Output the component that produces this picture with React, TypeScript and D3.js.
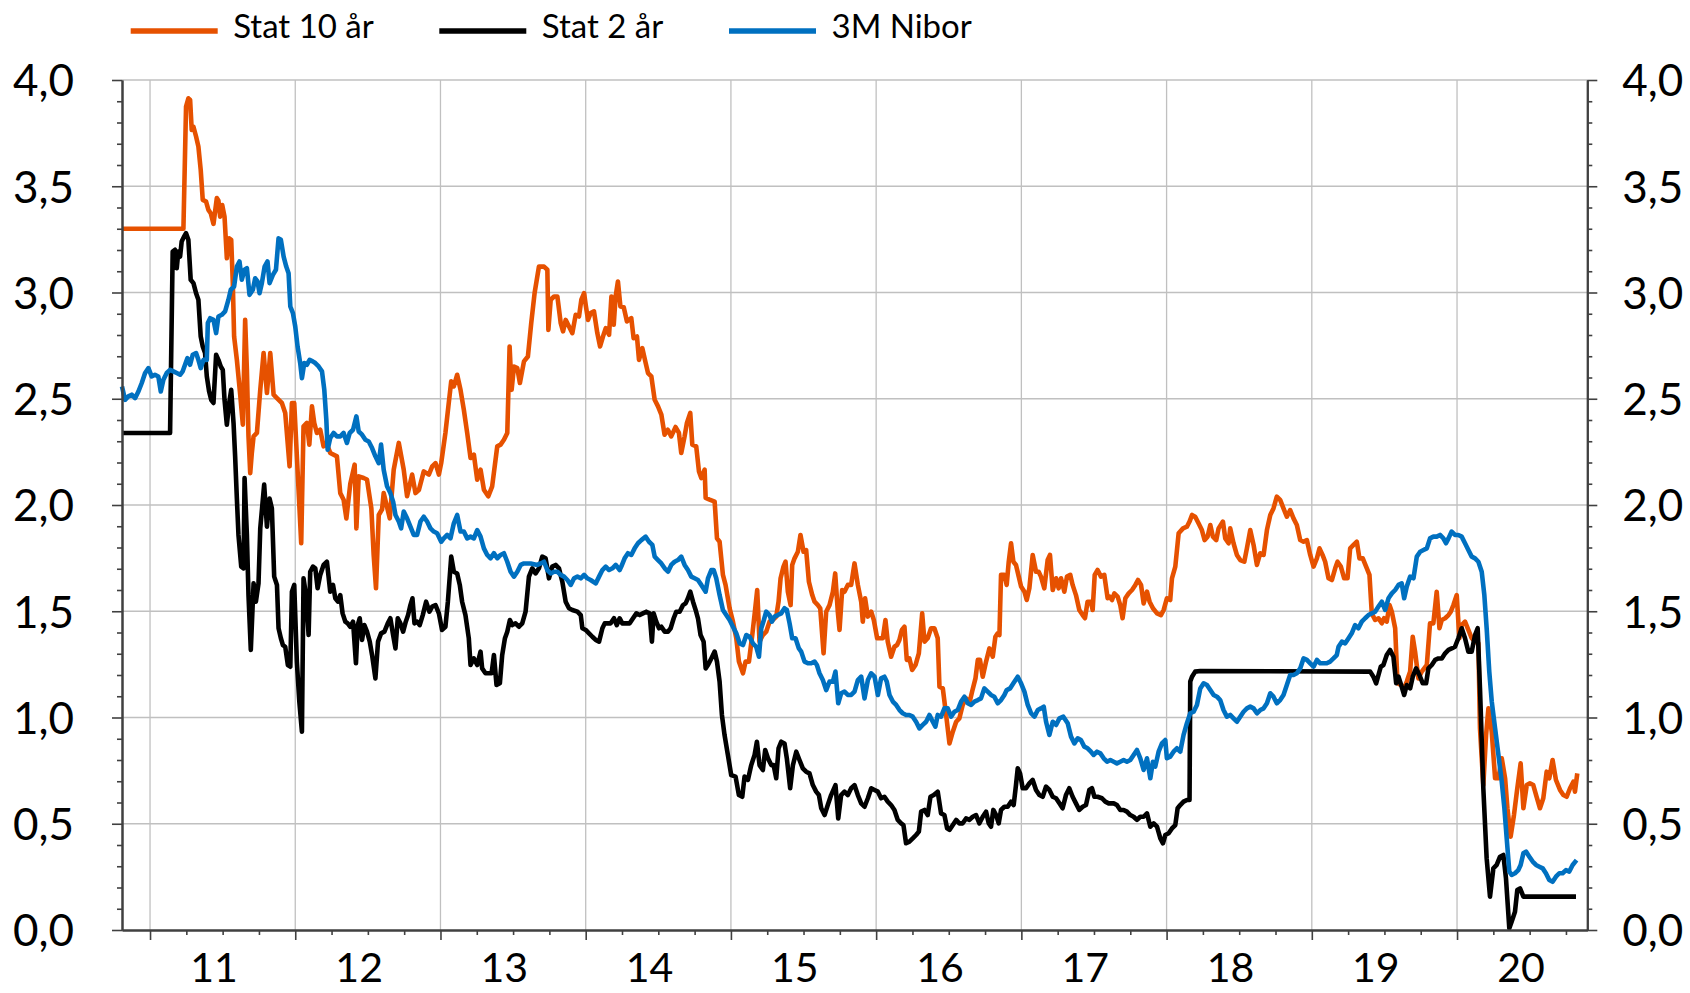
import React, { useEffect, useRef } from 'react';
import * as d3 from 'd3';

// [decimal year, percent]
const stat10: [number, number][] = [
  [2010.807,3.30],[2011.230,3.30],[2011.248,3.875],[2011.264,3.914],[2011.276,3.906],[2011.287,3.765],[2011.299,3.78],[2011.317,3.734],[2011.333,3.687],[2011.349,3.577],[2011.363,3.436],[2011.386,3.428],[2011.402,3.389],[2011.418,3.373],[2011.437,3.323],[2011.460,3.444],[2011.471,3.433],[2011.483,3.357],[2011.497,3.412],[2011.513,3.357],[2011.529,3.161],[2011.545,3.255],[2011.559,3.248],[2011.570,3.044],[2011.579,2.793],[2011.598,2.683],[2011.621,2.519],[2011.639,2.378],[2011.655,2.871],[2011.667,2.636],[2011.678,2.323],[2011.690,2.150],[2011.701,2.245],[2011.713,2.323],[2011.736,2.339],[2011.759,2.542],[2011.782,2.715],[2011.805,2.527],[2011.828,2.715],[2011.851,2.519],[2011.874,2.503],[2011.908,2.480],[2011.931,2.433],[2011.961,2.182],[2011.977,2.480],[2011.993,2.480],[2012.041,1.820],[2012.057,2.370],[2012.080,2.386],[2012.097,2.284],[2012.115,2.464],[2012.131,2.386],[2012.149,2.339],[2012.172,2.354],[2012.195,2.276],[2012.214,2.292],[2012.241,2.245],[2012.287,2.229],[2012.310,2.056],[2012.333,2.025],[2012.352,1.937],[2012.379,2.10],[2012.409,2.19],[2012.421,1.89],[2012.437,2.135],[2012.471,2.127],[2012.494,2.12],[2012.524,1.984],[2012.540,1.765],[2012.556,1.608],[2012.575,1.953],[2012.598,1.98],[2012.609,2.056],[2012.651,1.937],[2012.678,2.166],[2012.713,2.292],[2012.747,2.166],[2012.770,2.041],[2012.805,2.143],[2012.828,2.056],[2012.851,2.07],[2012.885,2.158],[2012.920,2.143],[2012.943,2.182],[2012.966,2.197],[2012.989,2.143],[2013.005,2.197],
  [2013.034,2.339],[2013.057,2.480],[2013.074,2.582],[2013.092,2.558],[2013.115,2.613],[2013.138,2.542],[2013.161,2.448],[2013.184,2.339],[2013.207,2.221],[2013.230,2.237],[2013.253,2.119],[2013.276,2.166],[2013.299,2.072],[2013.329,2.041],[2013.356,2.088],[2013.391,2.276],[2013.414,2.284],[2013.437,2.307],[2013.460,2.339],[2013.476,2.746],[2013.490,2.542],[2013.506,2.652],[2013.529,2.644],[2013.547,2.574],[2013.575,2.676],[2013.602,2.699],[2013.625,2.856],[2013.648,2.997],[2013.678,3.122],[2013.713,3.122],[2013.736,3.107],[2013.743,2.824],[2013.759,2.966],[2013.782,2.981],[2013.805,2.981],[2013.828,2.856],[2013.844,2.817],[2013.862,2.871],[2013.885,2.840],[2013.908,2.809],[2013.931,2.895],[2013.954,2.887],[2013.970,2.966],[2013.989,2.997],[2014.000,2.942],[2014.016,2.871],[2014.034,2.903],[2014.057,2.911],[2014.080,2.809],[2014.099,2.746],[2014.119,2.793],[2014.138,2.832],[2014.161,2.801],[2014.177,2.981],[2014.193,2.848],[2014.206,2.981],[2014.222,3.052],[2014.239,2.934],[2014.262,2.931],[2014.284,2.864],[2014.314,2.879],[2014.330,2.785],[2014.353,2.793],[2014.367,2.683],[2014.390,2.738],[2014.413,2.668],[2014.429,2.621],[2014.452,2.605],[2014.475,2.495],[2014.498,2.464],[2014.521,2.425],[2014.543,2.331],[2014.566,2.354],[2014.589,2.323],[2014.619,2.367],[2014.642,2.339],[2014.658,2.245],[2014.681,2.323],[2014.697,2.386],[2014.720,2.433],[2014.734,2.284],[2014.761,2.276],[2014.780,2.158],[2014.796,2.127],[2014.819,2.166],[2014.826,2.033],[2014.853,2.025],[2014.888,2.016],[2014.904,1.843],[2014.922,1.827],[2014.945,1.671],[2014.963,1.624],[2014.991,1.514],
  [2015.014,1.451],[2015.037,1.373],[2015.055,1.263],[2015.083,1.208],[2015.101,1.263],[2015.124,1.263],[2015.147,1.388],[2015.165,1.498],[2015.181,1.600],[2015.197,1.357],[2015.220,1.388],[2015.243,1.404],[2015.266,1.451],[2015.289,1.459],[2015.312,1.475],[2015.328,1.545],[2015.342,1.655],[2015.362,1.710],[2015.376,1.733],[2015.392,1.592],[2015.411,1.529],[2015.422,1.718],[2015.438,1.749],[2015.461,1.780],[2015.479,1.859],[2015.500,1.780],[2015.518,1.788],[2015.537,1.639],[2015.560,1.576],[2015.576,1.545],[2015.599,1.529],[2015.615,1.514],[2015.638,1.302],[2015.656,1.498],[2015.679,1.529],[2015.702,1.592],[2015.718,1.678],[2015.736,1.498],[2015.748,1.412],[2015.766,1.600],[2015.782,1.592],[2015.805,1.624],[2015.828,1.624],[2015.851,1.725],[2015.874,1.624],[2015.897,1.545],[2015.908,1.451],[2015.924,1.561],[2015.943,1.475],[2015.966,1.498],[2015.984,1.459],[2016.007,1.373],[2016.046,1.373],[2016.064,1.459],[2016.080,1.357],[2016.103,1.286],[2016.126,1.333],[2016.144,1.341],[2016.160,1.365],[2016.177,1.412],[2016.195,1.427],[2016.211,1.271],[2016.229,1.278],[2016.248,1.224],[2016.271,1.247],[2016.294,1.302],[2016.317,1.490],[2016.333,1.357],[2016.355,1.373],[2016.378,1.420],[2016.401,1.420],[2016.424,1.373],[2016.436,1.145],[2016.459,1.137],[2016.482,1.012],[2016.505,0.878],[2016.528,0.933],[2016.551,0.980],[2016.573,0.996],[2016.596,1.059],[2016.619,1.090],[2016.642,1.067],[2016.661,1.122],[2016.684,1.184],[2016.700,1.271],[2016.715,1.271],[2016.734,1.192],[2016.757,1.263],[2016.780,1.325],[2016.803,1.286],[2016.821,1.380],[2016.837,1.396],[2016.849,1.388],[2016.860,1.671],[2016.883,1.671],[2016.899,1.624],[2016.913,1.733],[2016.929,1.820],[2016.945,1.733],[2016.963,1.718],[2016.982,1.663],[2016.998,1.616],
  [2017.021,1.592],[2017.037,1.553],[2017.055,1.608],[2017.078,1.765],[2017.101,1.686],[2017.119,1.686],[2017.135,1.663],[2017.158,1.608],[2017.181,1.741],[2017.197,1.765],[2017.216,1.600],[2017.239,1.655],[2017.257,1.608],[2017.273,1.655],[2017.296,1.592],[2017.314,1.663],[2017.337,1.671],[2017.353,1.624],[2017.376,1.576],[2017.399,1.506],[2017.422,1.482],[2017.438,1.467],[2017.456,1.545],[2017.479,1.545],[2017.491,1.506],[2017.505,1.671],[2017.525,1.694],[2017.548,1.663],[2017.571,1.671],[2017.594,1.561],[2017.608,1.569],[2017.624,1.553],[2017.640,1.584],[2017.663,1.569],[2017.681,1.529],[2017.697,1.467],[2017.716,1.561],[2017.739,1.584],[2017.762,1.600],[2017.785,1.624],[2017.803,1.647],[2017.824,1.624],[2017.842,1.537],[2017.865,1.592],[2017.883,1.545],[2017.906,1.514],[2017.934,1.490],[2017.961,1.482],[2017.980,1.506],
  [2018.002,1.561],[2018.025,1.553],[2018.037,1.655],[2018.060,1.710],[2018.083,1.867],[2018.113,1.890],[2018.140,1.898],[2018.158,1.922],[2018.175,1.953],[2018.197,1.945],[2018.220,1.914],[2018.243,1.882],[2018.262,1.835],[2018.282,1.851],[2018.301,1.906],[2018.319,1.851],[2018.342,1.835],[2018.358,1.890],[2018.388,1.922],[2018.404,1.843],[2018.427,1.820],[2018.438,1.890],[2018.461,1.820],[2018.484,1.765],[2018.507,1.741],[2018.535,1.733],[2018.553,1.796],[2018.576,1.882],[2018.599,1.812],[2018.622,1.718],[2018.645,1.773],[2018.668,1.765],[2018.691,1.882],[2018.714,1.953],[2018.736,1.984],[2018.759,2.039],[2018.782,2.024],[2018.805,1.984],[2018.828,1.945],[2018.851,1.976],[2018.874,1.937],[2018.897,1.906],[2018.920,1.835],[2018.943,1.827],[2018.966,1.835],[2018.989,1.765],
  [2019.012,1.710],[2019.035,1.749],[2019.053,1.796],[2019.074,1.765],[2019.092,1.733],[2019.115,1.655],[2019.138,1.647],[2019.161,1.702],[2019.177,1.733],[2019.200,1.710],[2019.223,1.655],[2019.246,1.655],[2019.264,1.796],[2019.287,1.812],[2019.310,1.827],[2019.328,1.749],[2019.351,1.749],[2019.374,1.710],[2019.397,1.671],[2019.413,1.490],[2019.436,1.459],[2019.459,1.467],[2019.482,1.443],[2019.498,1.467],[2019.516,1.451],[2019.535,1.529],[2019.551,1.498],[2019.574,1.420],[2019.590,1.161],[2019.613,1.153],[2019.636,1.137],[2019.654,1.169],[2019.677,1.216],[2019.695,1.380],[2019.711,1.310],[2019.734,1.184],[2019.757,1.216],[2019.792,1.247],[2019.814,1.443],[2019.837,1.443],[2019.860,1.592],[2019.879,1.420],[2019.895,1.459],[2019.918,1.467],[2019.941,1.482],[2019.957,1.498],[2019.975,1.529],[2019.998,1.576],
  [2020.016,1.373],[2020.032,1.435],[2020.055,1.451],[2020.078,1.412],[2020.101,1.373],[2020.124,1.357],[2020.147,1.349],[2020.158,0.949],[2020.181,0.682],[2020.200,0.918],[2020.216,1.043],[2020.239,0.933],[2020.262,0.714],[2020.285,0.714],[2020.308,0.808],[2020.331,0.714],[2020.347,0.573],[2020.369,0.439],[2020.392,0.541],[2020.415,0.667],[2020.438,0.784],[2020.457,0.573],[2020.480,0.682],[2020.502,0.690],[2020.525,0.682],[2020.548,0.627],[2020.571,0.573],[2020.594,0.620],[2020.617,0.745],[2020.635,0.714],[2020.658,0.800],[2020.681,0.706],[2020.709,0.659],[2020.732,0.635],[2020.755,0.627],[2020.778,0.667],[2020.801,0.698],[2020.812,0.651],[2020.828,0.737],
];

const stat2: [number, number][] = [
  [2010.807,2.339],[2011.138,2.339],[2011.156,3.193],[2011.172,3.201],[2011.184,3.114],[2011.195,3.193],[2011.207,3.169],[2011.218,3.240],[2011.234,3.263],[2011.248,3.279],[2011.264,3.248],[2011.280,3.060],[2011.299,3.044],[2011.317,2.997],[2011.333,2.966],[2011.349,2.793],[2011.363,2.746],[2011.379,2.715],[2011.391,2.605],[2011.407,2.534],[2011.421,2.495],[2011.437,2.480],[2011.455,2.707],[2011.471,2.683],[2011.487,2.652],[2011.501,2.636],[2011.513,2.495],[2011.529,2.378],[2011.545,2.480],[2011.559,2.542],[2011.575,2.386],[2011.586,2.229],[2011.598,2.03],[2011.609,1.859],[2011.628,1.710],[2011.644,1.702],[2011.651,2.127],[2011.667,1.859],[2011.678,1.576],[2011.694,1.318],[2011.713,1.631],[2011.729,1.545],[2011.747,1.631],[2011.759,1.890],[2011.786,2.096],[2011.805,1.898],[2011.823,2.03],[2011.839,1.984],[2011.855,1.663],[2011.874,1.624],[2011.885,1.420],[2011.901,1.373],[2011.915,1.341],[2011.931,1.333],[2011.949,1.247],[2011.966,1.239],[2011.977,1.592],[2011.993,1.624],
  [2012.011,1.263],[2012.028,1.075],[2012.046,0.933],[2012.057,1.655],[2012.074,1.576],[2012.092,1.388],[2012.103,1.686],[2012.122,1.710],[2012.138,1.702],[2012.154,1.608],[2012.172,1.671],[2012.195,1.718],[2012.218,1.733],[2012.241,1.592],[2012.260,1.624],[2012.276,1.561],[2012.294,1.545],[2012.310,1.576],[2012.326,1.490],[2012.345,1.451],[2012.361,1.443],[2012.379,1.427],[2012.398,1.451],[2012.418,1.255],[2012.430,1.435],[2012.444,1.467],[2012.460,1.365],[2012.476,1.435],[2012.494,1.404],[2012.513,1.357],[2012.529,1.294],[2012.552,1.184],[2012.570,1.357],[2012.591,1.396],[2012.614,1.404],[2012.637,1.443],[2012.655,1.467],[2012.674,1.388],[2012.690,1.325],[2012.706,1.467],[2012.724,1.443],[2012.743,1.404],[2012.761,1.451],[2012.777,1.482],[2012.793,1.529],[2012.807,1.561],[2012.821,1.443],[2012.839,1.451],[2012.857,1.435],[2012.878,1.482],[2012.901,1.545],[2012.924,1.498],[2012.943,1.522],[2012.966,1.529],[2012.989,1.490],
  [2013.011,1.412],[2013.034,1.427],[2013.051,1.545],[2013.074,1.757],[2013.092,1.686],[2013.115,1.678],[2013.133,1.624],[2013.149,1.545],[2013.172,1.482],[2013.195,1.373],[2013.207,1.247],[2013.230,1.278],[2013.253,1.247],[2013.276,1.310],[2013.287,1.231],[2013.310,1.208],[2013.333,1.208],[2013.352,1.208],[2013.368,1.294],[2013.386,1.153],[2013.409,1.161],[2013.425,1.294],[2013.444,1.373],[2013.460,1.404],[2013.478,1.459],[2013.494,1.435],[2013.517,1.443],[2013.540,1.427],[2013.563,1.443],[2013.586,1.498],[2013.609,1.663],[2013.632,1.702],[2013.655,1.678],[2013.678,1.702],[2013.701,1.757],[2013.724,1.749],[2013.747,1.655],[2013.770,1.710],[2013.793,1.718],[2013.816,1.702],[2013.839,1.639],[2013.862,1.545],[2013.885,1.514],[2013.908,1.506],[2013.943,1.498],[2013.966,1.482],[2013.977,1.420],
  [2014.000,1.412],[2014.023,1.396],[2014.046,1.380],[2014.069,1.365],[2014.092,1.357],[2014.115,1.420],[2014.131,1.443],[2014.154,1.443],[2014.172,1.443],[2014.195,1.467],[2014.214,1.435],[2014.234,1.467],[2014.252,1.443],[2014.275,1.443],[2014.303,1.443],[2014.326,1.467],[2014.349,1.490],[2014.372,1.482],[2014.394,1.490],[2014.417,1.498],[2014.440,1.490],[2014.456,1.357],[2014.468,1.490],[2014.486,1.451],[2014.505,1.420],[2014.521,1.427],[2014.544,1.404],[2014.567,1.404],[2014.585,1.420],[2014.606,1.467],[2014.624,1.498],[2014.647,1.498],[2014.670,1.529],[2014.688,1.537],[2014.704,1.561],[2014.720,1.592],[2014.739,1.545],[2014.757,1.506],[2014.773,1.467],[2014.791,1.388],[2014.812,1.357],[2014.826,1.231],[2014.842,1.247],[2014.865,1.278],[2014.888,1.310],[2014.904,1.263],[2014.922,1.169],[2014.938,1.012],[2014.956,0.918],[2014.979,0.824],
  [2015.002,0.729],[2015.032,0.722],[2015.055,0.635],[2015.078,0.627],[2015.094,0.722],[2015.117,0.706],[2015.140,0.776],[2015.163,0.824],[2015.179,0.886],[2015.197,0.776],[2015.220,0.753],[2015.236,0.847],[2015.255,0.808],[2015.278,0.776],[2015.294,0.776],[2015.312,0.714],[2015.328,0.855],[2015.346,0.886],[2015.369,0.878],[2015.385,0.808],[2015.408,0.667],[2015.427,0.776],[2015.450,0.839],[2015.472,0.800],[2015.495,0.761],[2015.518,0.745],[2015.541,0.737],[2015.564,0.682],[2015.587,0.651],[2015.606,0.635],[2015.622,0.573],[2015.645,0.541],[2015.667,0.588],[2015.690,0.635],[2015.720,0.682],[2015.739,0.525],[2015.759,0.635],[2015.782,0.651],[2015.805,0.635],[2015.828,0.667],[2015.851,0.682],[2015.874,0.635],[2015.897,0.596],[2015.920,0.580],[2015.943,0.620],[2015.966,0.667],[2015.989,0.659],
  [2016.012,0.651],[2016.034,0.620],[2016.057,0.627],[2016.080,0.604],[2016.103,0.588],[2016.126,0.565],[2016.149,0.518],[2016.172,0.502],[2016.188,0.494],[2016.206,0.408],[2016.229,0.416],[2016.252,0.431],[2016.275,0.447],[2016.294,0.463],[2016.310,0.557],[2016.333,0.565],[2016.355,0.541],[2016.374,0.627],[2016.397,0.635],[2016.424,0.651],[2016.447,0.549],[2016.470,0.541],[2016.489,0.478],[2016.505,0.471],[2016.528,0.494],[2016.551,0.518],[2016.573,0.502],[2016.596,0.502],[2016.619,0.525],[2016.642,0.518],[2016.665,0.533],[2016.688,0.541],[2016.711,0.502],[2016.734,0.533],[2016.757,0.557],[2016.775,0.502],[2016.791,0.486],[2016.807,0.565],[2016.826,0.541],[2016.844,0.502],[2016.860,0.565],[2016.883,0.580],[2016.906,0.580],[2016.929,0.604],[2016.947,0.588],[2016.963,0.682],[2016.975,0.761],[2016.991,0.737],
  [2017.009,0.667],[2017.032,0.667],[2017.055,0.690],[2017.078,0.706],[2017.101,0.659],[2017.124,0.635],[2017.147,0.627],[2017.170,0.675],[2017.193,0.659],[2017.216,0.627],[2017.239,0.620],[2017.262,0.596],[2017.284,0.573],[2017.307,0.635],[2017.330,0.667],[2017.353,0.627],[2017.376,0.596],[2017.399,0.565],[2017.422,0.580],[2017.445,0.588],[2017.468,0.659],[2017.486,0.667],[2017.503,0.627],[2017.525,0.627],[2017.555,0.620],[2017.578,0.604],[2017.601,0.596],[2017.636,0.596],[2017.658,0.588],[2017.681,0.565],[2017.704,0.565],[2017.727,0.557],[2017.750,0.541],[2017.773,0.533],[2017.796,0.518],[2017.819,0.533],[2017.842,0.533],[2017.865,0.549],[2017.888,0.486],[2017.911,0.502],[2017.934,0.486],[2017.957,0.431],[2017.975,0.408],[2017.991,0.447],
  [2018.014,0.455],[2018.037,0.478],[2018.060,0.494],[2018.076,0.573],[2018.094,0.588],[2018.117,0.604],[2018.140,0.612],[2018.158,0.612],[2018.163,1.169],[2018.175,1.192],[2018.197,1.216],[2018.232,1.219],[2019.402,1.216],[2019.424,1.192],[2019.443,1.161],[2019.459,1.200],[2019.475,1.239],[2019.493,1.247],[2019.516,1.294],[2019.539,1.318],[2019.562,1.286],[2019.581,1.161],[2019.597,1.192],[2019.619,1.145],[2019.636,1.106],[2019.654,1.153],[2019.677,1.137],[2019.695,1.192],[2019.718,1.231],[2019.741,1.200],[2019.764,1.161],[2019.787,1.161],[2019.803,1.231],[2019.826,1.247],[2019.849,1.271],[2019.872,1.278],[2019.895,1.278],[2019.918,1.302],[2019.941,1.318],[2019.963,1.325],[2019.986,1.333],
  [2020.009,1.373],[2020.032,1.420],[2020.055,1.373],[2020.078,1.310],[2020.101,1.310],[2020.124,1.388],[2020.142,1.420],[2020.158,1.137],[2020.181,0.667],[2020.204,0.337],[2020.227,0.157],[2020.250,0.290],[2020.273,0.306],[2020.296,0.345],[2020.319,0.353],[2020.337,0.243],[2020.360,0.008],[2020.376,0.039],[2020.399,0.086],[2020.415,0.188],[2020.434,0.196],[2020.457,0.157],[2020.819,0.157],
];

const nibor: [number, number][] = [
  [2010.807,2.558],[2010.828,2.495],[2010.851,2.511],[2010.874,2.519],[2010.897,2.503],[2010.920,2.534],[2010.943,2.574],[2010.966,2.621],[2010.989,2.644],[2011.011,2.605],[2011.034,2.613],[2011.057,2.605],[2011.074,2.534],[2011.092,2.589],[2011.115,2.621],[2011.138,2.636],[2011.161,2.629],[2011.184,2.621],[2011.207,2.613],[2011.225,2.629],[2011.241,2.660],[2011.257,2.691],[2011.276,2.660],[2011.294,2.707],[2011.317,2.715],[2011.333,2.683],[2011.349,2.644],[2011.368,2.683],[2011.391,2.683],[2011.398,2.856],[2011.414,2.879],[2011.437,2.871],[2011.455,2.809],[2011.471,2.887],[2011.494,2.895],[2011.517,2.911],[2011.540,2.966],[2011.556,3.013],[2011.579,3.028],[2011.598,3.122],[2011.616,3.146],[2011.632,3.060],[2011.651,3.107],[2011.667,3.114],[2011.685,2.989],[2011.708,3.013],[2011.724,3.067],[2011.740,3.052],[2011.754,2.997],[2011.770,3.044],[2011.789,3.122],[2011.809,3.146],[2011.823,3.044],[2011.846,3.083],[2011.867,3.107],[2011.885,3.255],[2011.901,3.248],[2011.920,3.169],[2011.938,3.122],[2011.954,3.091],[2011.966,2.934],[2011.984,2.903],
  [2012.000,2.840],[2012.016,2.746],[2012.034,2.668],[2012.046,2.597],[2012.062,2.668],[2012.080,2.660],[2012.099,2.683],[2012.120,2.676],[2012.138,2.668],[2012.161,2.652],[2012.184,2.629],[2012.200,2.542],[2012.214,2.401],[2012.223,2.260],[2012.241,2.315],[2012.264,2.339],[2012.287,2.323],[2012.310,2.323],[2012.333,2.339],[2012.356,2.292],[2012.375,2.339],[2012.398,2.354],[2012.421,2.417],[2012.437,2.346],[2012.460,2.331],[2012.483,2.307],[2012.506,2.299],[2012.529,2.268],[2012.552,2.229],[2012.575,2.197],[2012.591,2.284],[2012.609,2.166],[2012.632,2.088],[2012.655,2.056],[2012.674,2.016],[2012.690,1.953],[2012.713,1.922],[2012.729,1.890],[2012.747,1.969],[2012.770,1.937],[2012.793,1.898],[2012.816,1.859],[2012.839,1.859],[2012.862,1.922],[2012.885,1.945],[2012.908,1.922],[2012.931,1.890],[2012.954,1.875],[2012.977,1.867],
  [2013.005,1.827],[2013.023,1.843],[2013.046,1.859],[2013.069,1.843],[2013.092,1.914],[2013.115,1.953],[2013.138,1.875],[2013.161,1.875],[2013.184,1.843],[2013.207,1.851],[2013.230,1.843],[2013.253,1.882],[2013.276,1.851],[2013.299,1.796],[2013.322,1.765],[2013.345,1.749],[2013.368,1.773],[2013.391,1.749],[2013.414,1.765],[2013.437,1.773],[2013.460,1.733],[2013.483,1.686],[2013.506,1.663],[2013.529,1.686],[2013.552,1.718],[2013.575,1.725],[2013.621,1.725],[2013.667,1.718],[2013.690,1.725],[2013.713,1.733],[2013.736,1.694],[2013.759,1.678],[2013.782,1.686],[2013.805,1.686],[2013.828,1.671],[2013.851,1.663],[2013.874,1.647],[2013.897,1.624],[2013.920,1.655],[2013.943,1.663],[2013.966,1.655],[2013.989,1.671],
  [2014.011,1.655],[2014.034,1.647],[2014.069,1.631],[2014.092,1.663],[2014.115,1.694],[2014.138,1.710],[2014.161,1.694],[2014.184,1.702],[2014.207,1.718],[2014.234,1.694],[2014.245,1.710],[2014.268,1.749],[2014.291,1.773],[2014.314,1.765],[2014.337,1.796],[2014.360,1.820],[2014.383,1.835],[2014.413,1.851],[2014.436,1.827],[2014.459,1.812],[2014.475,1.757],[2014.498,1.741],[2014.521,1.725],[2014.544,1.702],[2014.567,1.686],[2014.589,1.718],[2014.612,1.733],[2014.635,1.741],[2014.658,1.757],[2014.681,1.718],[2014.704,1.694],[2014.727,1.663],[2014.750,1.655],[2014.773,1.647],[2014.796,1.624],[2014.826,1.592],[2014.842,1.655],[2014.865,1.694],[2014.881,1.694],[2014.899,1.655],[2014.922,1.576],[2014.945,1.506],[2014.968,1.482],[2014.991,1.459],
  [2015.014,1.427],[2015.037,1.396],[2015.060,1.349],[2015.083,1.341],[2015.106,1.388],[2015.129,1.380],[2015.151,1.349],[2015.174,1.333],[2015.193,1.286],[2015.209,1.420],[2015.227,1.459],[2015.243,1.498],[2015.266,1.482],[2015.282,1.451],[2015.300,1.475],[2015.323,1.482],[2015.346,1.490],[2015.369,1.514],[2015.385,1.506],[2015.404,1.443],[2015.422,1.373],[2015.445,1.373],[2015.468,1.325],[2015.484,1.310],[2015.507,1.263],[2015.530,1.255],[2015.553,1.255],[2015.576,1.263],[2015.592,1.247],[2015.610,1.208],[2015.633,1.176],[2015.656,1.129],[2015.679,1.169],[2015.702,1.169],[2015.720,1.216],[2015.739,1.067],[2015.759,1.114],[2015.782,1.122],[2015.805,1.106],[2015.828,1.106],[2015.851,1.122],[2015.874,1.176],[2015.897,1.192],[2015.920,1.090],[2015.943,1.176],[2015.966,1.208],[2015.989,1.192],
  [2016.012,1.106],[2016.034,1.184],[2016.057,1.192],[2016.073,1.169],[2016.092,1.106],[2016.115,1.075],[2016.138,1.059],[2016.161,1.035],[2016.183,1.020],[2016.206,1.012],[2016.229,1.012],[2016.252,1.004],[2016.275,0.980],[2016.298,0.949],[2016.321,0.965],[2016.344,0.980],[2016.367,1.012],[2016.390,0.980],[2016.408,0.957],[2016.424,1.012],[2016.447,1.004],[2016.470,1.043],[2016.493,1.043],[2016.516,1.004],[2016.539,1.027],[2016.562,1.035],[2016.585,1.075],[2016.608,1.098],[2016.631,1.067],[2016.654,1.059],[2016.677,1.075],[2016.700,1.082],[2016.722,1.090],[2016.745,1.137],[2016.768,1.122],[2016.791,1.106],[2016.814,1.098],[2016.837,1.067],[2016.860,1.082],[2016.883,1.106],[2016.899,1.129],[2016.922,1.137],[2016.945,1.161],[2016.975,1.192],[2016.998,1.161],
  [2017.021,1.122],[2017.044,1.059],[2017.067,1.020],[2017.090,1.004],[2017.113,1.035],[2017.135,1.043],[2017.154,1.051],[2017.170,0.980],[2017.193,0.918],[2017.216,0.980],[2017.239,0.965],[2017.262,0.996],[2017.289,1.004],[2017.319,0.973],[2017.342,0.910],[2017.365,0.878],[2017.388,0.902],[2017.410,0.894],[2017.433,0.863],[2017.456,0.855],[2017.479,0.839],[2017.498,0.824],[2017.521,0.839],[2017.544,0.831],[2017.567,0.808],[2017.590,0.792],[2017.613,0.800],[2017.636,0.792],[2017.658,0.784],[2017.681,0.792],[2017.704,0.800],[2017.727,0.792],[2017.750,0.800],[2017.773,0.824],[2017.796,0.847],[2017.819,0.808],[2017.842,0.753],[2017.865,0.808],[2017.888,0.714],[2017.906,0.792],[2017.922,0.769],[2017.945,0.839],[2017.968,0.878],[2017.991,0.894],
  [2018.002,0.808],[2018.025,0.816],[2018.048,0.839],[2018.071,0.855],[2018.094,0.839],[2018.117,0.918],[2018.140,0.973],[2018.163,1.020],[2018.186,1.027],[2018.209,1.059],[2018.232,1.137],[2018.255,1.161],[2018.278,1.153],[2018.301,1.129],[2018.324,1.106],[2018.347,1.098],[2018.369,1.082],[2018.392,1.035],[2018.415,1.004],[2018.438,1.012],[2018.461,0.996],[2018.484,0.980],[2018.507,1.004],[2018.530,1.027],[2018.553,1.043],[2018.576,1.051],[2018.599,1.043],[2018.622,1.020],[2018.645,1.035],[2018.668,1.043],[2018.691,1.067],[2018.714,1.114],[2018.736,1.098],[2018.759,1.067],[2018.782,1.082],[2018.805,1.106],[2018.828,1.153],[2018.851,1.200],[2018.874,1.200],[2018.897,1.208],[2018.920,1.231],[2018.943,1.278],[2018.966,1.271],[2018.989,1.255],
  [2019.012,1.239],[2019.035,1.271],[2019.058,1.255],[2019.081,1.255],[2019.103,1.255],[2019.126,1.263],[2019.149,1.278],[2019.172,1.294],[2019.184,1.333],[2019.207,1.357],[2019.230,1.349],[2019.253,1.373],[2019.275,1.396],[2019.298,1.435],[2019.321,1.420],[2019.344,1.451],[2019.367,1.467],[2019.390,1.482],[2019.413,1.490],[2019.436,1.498],[2019.459,1.522],[2019.482,1.545],[2019.505,1.506],[2019.528,1.561],[2019.551,1.584],[2019.574,1.600],[2019.597,1.624],[2019.619,1.631],[2019.636,1.561],[2019.654,1.616],[2019.677,1.663],[2019.700,1.655],[2019.723,1.757],[2019.746,1.780],[2019.769,1.788],[2019.792,1.796],[2019.814,1.843],[2019.837,1.851],[2019.860,1.851],[2019.883,1.859],[2019.906,1.843],[2019.924,1.820],[2019.941,1.843],[2019.963,1.875],[2019.986,1.859],
  [2020.009,1.859],[2020.032,1.851],[2020.055,1.820],[2020.078,1.788],[2020.101,1.757],[2020.124,1.749],[2020.147,1.733],[2020.170,1.686],[2020.188,1.576],[2020.204,1.420],[2020.222,1.216],[2020.239,1.075],[2020.262,0.949],[2020.285,0.824],[2020.308,0.698],[2020.326,0.573],[2020.342,0.431],[2020.360,0.275],[2020.376,0.259],[2020.399,0.267],[2020.422,0.282],[2020.438,0.306],[2020.457,0.361],[2020.475,0.369],[2020.498,0.345],[2020.521,0.322],[2020.544,0.306],[2020.567,0.298],[2020.590,0.290],[2020.612,0.267],[2020.635,0.235],[2020.658,0.227],[2020.681,0.251],[2020.704,0.267],[2020.727,0.267],[2020.750,0.282],[2020.773,0.275],[2020.796,0.306],[2020.823,0.329],
];

const years = [2011, 2012, 2013, 2014, 2015, 2016, 2017, 2018, 2019, 2020];
const yearLabels = ['11', '12', '13', '14', '15', '16', '17', '18', '19', '20'];
const yMajor = [0, 0.5, 1, 1.5, 2, 2.5, 3, 3.5, 4];
const seriesNames = ['Stat 10 år', 'Stat 2 år', '3M Nibor'];

const colors = ['#E65100', '#000000', '#0070C0'];

const App = () => {
  const ref = useRef<SVGSVGElement>(null);

  useEffect(() => {
    const svg = d3.select(ref.current);
    svg.selectAll('*').remove();

    const width = 1690;
    const height = 993;
    const plot = { left: 122, right: 1587.3, top: 80, bottom: 930 };
    const font = "Lato, 'Open Sans', sans-serif";
    const axisColor = '#404040';

    svg.attr('width', width).attr('height', height).style('background', '#fff');

    const x = d3.scaleLinear().domain([2010.807, 2020.897]).range([plot.left, plot.right]);
    const y = d3.scaleLinear().domain([0, 4]).range([plot.bottom, plot.top]);

    // gridlines
    const grid = svg.append('g');
    grid.selectAll('.hgrid')
      .data(yMajor.filter(d => d > 0))
      .enter()
      .append('line')
      .attr('x1', plot.left)
      .attr('x2', plot.right)
      .attr('y1', d => y(d))
      .attr('y2', d => y(d))
      .attr('stroke', '#c0c0c0')
      .attr('stroke-width', 1.3);
    grid.selectAll('.vgrid')
      .data(years)
      .enter()
      .append('line')
      .attr('x1', d => x(d))
      .attr('x2', d => x(d))
      .attr('y1', plot.top)
      .attr('y2', plot.bottom)
      .attr('stroke', '#c0c0c0')
      .attr('stroke-width', 1.3);

    // series
    const line = d3.line<[number, number]>()
      .x(d => x(d[0]))
      .y(d => y(d[1]));

    [stat10, stat2, nibor].forEach((data, i) => {
      svg.append('path')
        .datum(data)
        .attr('fill', 'none')
        .attr('stroke', colors[i])
        .attr('stroke-width', 4.6)
        .attr('stroke-linejoin', 'round')
        .attr('d', line);
    });

    // quarter ticks on x
    const [x0, x1] = x.domain();
    const quarters = d3.range(Math.ceil(x0 * 4), Math.floor(x1 * 4) + 1)
      .map(q => q / 4)
      .filter(q => q % 1 !== 0);
    const yMinor = d3.range(0, 41).map(i => i / 10).filter(v => Math.round(v * 10) % 5 !== 0);
    const fmt = (d: d3.NumberValue) => (+d).toFixed(1).replace('.', ',');

    const styleAxis = (g: d3.Selection<SVGGElement, unknown, null, undefined>) => {
      g.attr('color', axisColor);
      g.selectAll('.domain').attr('stroke-width', 2);
      g.selectAll('.tick line').attr('stroke-width', 1.6);
    };

    const xMinorG = svg.append('g')
      .attr('transform', `translate(0,${plot.bottom})`)
      .call(d3.axisBottom(x).tickValues(quarters).tickSize(5).tickSizeOuter(0).tickFormat(() => ''));
    styleAxis(xMinorG);
    const xMajorG = svg.append('g')
      .attr('transform', `translate(0,${plot.bottom})`)
      .call(d3.axisBottom(x).tickValues(years).tickSize(10).tickSizeOuter(0).tickFormat(() => ''));
    styleAxis(xMajorG);

    const leftMinor = svg.append('g')
      .attr('transform', `translate(${plot.left},0)`)
      .call(d3.axisLeft(y).tickValues(yMinor).tickSize(5).tickSizeOuter(0).tickFormat(() => ''));
    styleAxis(leftMinor);
    const leftMajor = svg.append('g')
      .attr('transform', `translate(${plot.left},0)`)
      .call(d3.axisLeft(y).tickValues(yMajor).tickSize(10).tickPadding(38).tickSizeOuter(0).tickFormat(fmt));
    styleAxis(leftMajor);

    const rightMinor = svg.append('g')
      .attr('transform', `translate(${plot.right},0)`)
      .call(d3.axisRight(y).tickValues(yMinor).tickSize(5).tickSizeOuter(0).tickFormat(() => ''));
    styleAxis(rightMinor);
    const rightMajor = svg.append('g')
      .attr('transform', `translate(${plot.right},0)`)
      .call(d3.axisRight(y).tickValues(yMajor).tickSize(10).tickPadding(25).tickSizeOuter(0).tickFormat(fmt));
    styleAxis(rightMajor);

    [leftMajor, rightMajor].forEach(g => {
      g.selectAll('text')
        .attr('fill', '#000')
        .attr('dy', '0.36em')
        .style('font-family', font)
        .style('font-size', '44px');
    });

    // year labels, sitting inside each year
    svg.selectAll('.xlabel')
      .data(years)
      .enter()
      .append('text')
      .attr('x', d => x(d + 0.44))
      .attr('y', 982)
      .attr('text-anchor', 'middle')
      .style('font-family', font)
      .style('font-size', '41px')
      .style('fill', '#000')
      .text((d, i) => yearLabels[i]);

    // legend
    const legendX = [130.7, 439.3, 729];
    const legend = svg.append('g');
    seriesNames.forEach((name, i) => {
      legend.append('line')
        .attr('x1', legendX[i])
        .attr('x2', legendX[i] + 87)
        .attr('y1', 31)
        .attr('y2', 31)
        .attr('stroke', colors[i])
        .attr('stroke-width', 5.5);
      legend.append('text')
        .attr('x', legendX[i] + 102.5)
        .attr('y', 38)
        .style('font-family', font)
        .style('font-size', '33px')
        .style('fill', '#000')
        .text(name);
    });
  }, []);

  return (
    <div style={{ position: 'absolute', left: 0, top: 0 }}>
      <svg ref={ref} style={{ display: 'block' }}></svg>
    </div>
  );
};

export default App;
